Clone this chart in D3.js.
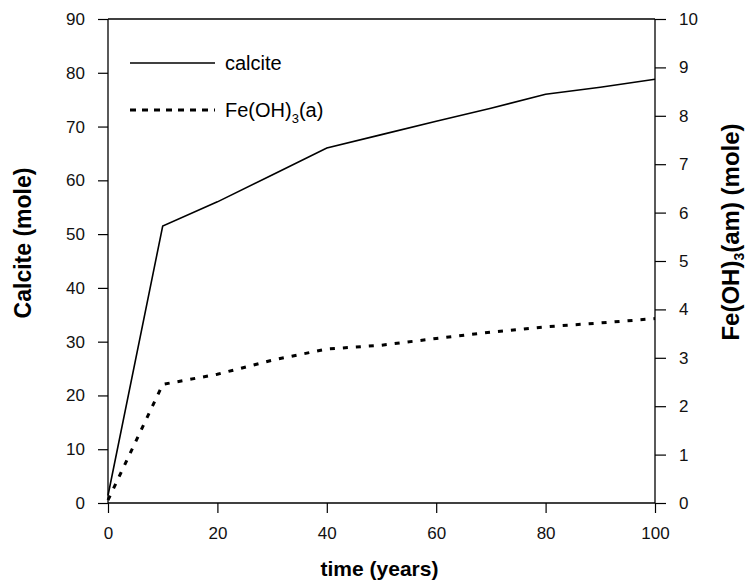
<!DOCTYPE html>
<html>
<head>
<meta charset="utf-8">
<script src="https://cdn.jsdelivr.net/npm/d3@7"></script>
<style>
  body { margin: 0; background: #fff; }
  text { font-family: "Liberation Sans", Arial, sans-serif; }
</style>
</head>
<body>
<div id="chart"></div>
<script>
// data
var years = [0, 10, 20, 30, 40, 50, 60, 70, 80, 90, 100];
var calcite = [1.4, 51.5, 56, 61, 66, 68.5, 71, 73.4, 76, 77.3, 78.8];
var feOH3 = [0.06, 2.45, 2.66, 2.95, 3.18, 3.26, 3.4, 3.53, 3.64, 3.72, 3.81];
var xTicks = [0, 20, 40, 60, 80, 100];
var leftTicks = [0, 10, 20, 30, 40, 50, 60, 70, 80, 90];
var rightTicks = [0, 1, 2, 3, 4, 5, 6, 7, 8, 9, 10];

var width = 747, height = 583;
var pLeft = 108, pRight = 655, pTop = 19, pBottom = 503;

var svg = d3.select("#chart").append("svg")
    .attr("width", width)
    .attr("height", height);

var x = d3.scaleLinear().domain([0, 100]).range([pLeft, pRight]);
var yL = d3.scaleLinear().domain([0, 90]).range([pBottom, pTop]);
var yR = d3.scaleLinear().domain([0, 10]).range([pBottom, pTop]);

// axes
var gx = svg.append("g")
    .attr("transform", "translate(0," + pBottom + ")")
    .call(d3.axisBottom(x).tickValues(xTicks).tickSize(10).tickPadding(14));
var gl = svg.append("g")
    .attr("transform", "translate(" + pLeft + ",0)")
    .call(d3.axisLeft(yL).tickValues(leftTicks).tickSize(10).tickPadding(13));
var gr = svg.append("g")
    .attr("transform", "translate(" + pRight + ",0)")
    .call(d3.axisRight(yR).tickValues(rightTicks).tickSize(11).tickPadding(13));

[gx, gl, gr].forEach(function(g) {
    g.select(".domain").attr("stroke", "#000").attr("stroke-width", 1.3);
    g.selectAll(".tick line").attr("stroke", "#000").attr("stroke-width", 1.2);
    g.selectAll(".tick text")
        .attr("fill", "#111")
        .style("font-size", "17px")
        .style("font-family", "Liberation Sans, Arial, sans-serif");
});
// straight domain lines, no end caps
gx.select(".domain").attr("d", "M" + pLeft + ",0H" + pRight);
gl.select(".domain").attr("d", "M0," + pBottom + "V" + pTop);
gr.select(".domain").attr("d", "M0," + pBottom + "V" + pTop);

// top frame line
svg.append("line")
    .attr("x1", pLeft).attr("x2", pRight)
    .attr("y1", pTop).attr("y2", pTop)
    .attr("stroke", "#000").attr("stroke-width", 1.3);

// series
var lineCal = d3.line()
    .x(function(d, i) { return x(years[i]); })
    .y(function(d) { return yL(d); });
var lineFe = d3.line()
    .x(function(d, i) { return x(years[i]); })
    .y(function(d) { return yR(d); });

svg.append("path")
    .datum(calcite)
    .attr("d", lineCal)
    .attr("fill", "none")
    .attr("stroke", "#000")
    .attr("stroke-width", 1.6);

svg.append("path")
    .datum(feOH3)
    .attr("d", lineFe)
    .attr("fill", "none")
    .attr("stroke", "#000")
    .attr("stroke-width", 3)
    .attr("stroke-dasharray", "5,8");

// legend
svg.append("line")
    .attr("x1", 130).attr("x2", 215).attr("y1", 63).attr("y2", 63)
    .attr("stroke", "#000").attr("stroke-width", 1.6);
svg.append("text")
    .attr("x", 225).attr("y", 70)
    .style("font-size", "20px")
    .text("calcite");

svg.append("line")
    .attr("x1", 130).attr("x2", 215).attr("y1", 110).attr("y2", 110)
    .attr("stroke", "#000").attr("stroke-width", 3)
    .attr("stroke-dasharray", "6,6");
var feLeg = svg.append("text")
    .attr("x", 225).attr("y", 117)
    .style("font-size", "20px");
feLeg.append("tspan").text("Fe(OH)");
feLeg.append("tspan").attr("dy", 6).style("font-size", "13px").text("3");
feLeg.append("tspan").attr("dy", -6).text("(a)");

// axis titles
svg.append("text")
    .attr("x", (pLeft + pRight) / 2 - 2)
    .attr("y", 576)
    .attr("text-anchor", "middle")
    .style("font-size", "21px")
    .style("font-weight", "bold")
    .text("time (years)");

svg.append("text")
    .attr("transform", "translate(31,243) rotate(-90)")
    .attr("text-anchor", "middle")
    .style("font-size", "23px")
    .style("font-weight", "bold")
    .text("Calcite (mole)");

var rt = svg.append("text")
    .attr("transform", "translate(739,232) rotate(-90)")
    .attr("text-anchor", "middle")
    .style("font-size", "24px")
    .style("font-weight", "bold");
rt.append("tspan").text("Fe(OH)");
rt.append("tspan").attr("dy", 5).style("font-size", "14px").text("3");
rt.append("tspan").attr("dy", -5).text("(am) (mole)");
</script>
</body>
</html>
